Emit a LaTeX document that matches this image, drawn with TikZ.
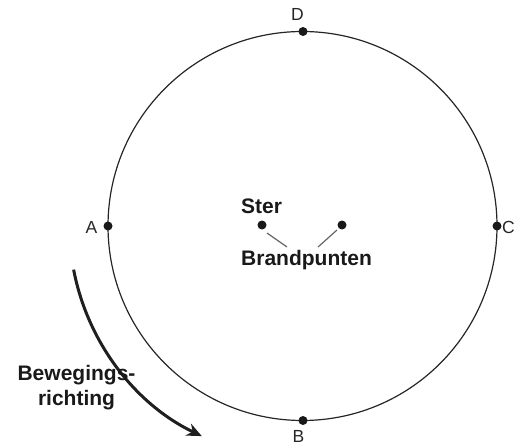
\documentclass[tikz,border=0pt]{standalone}
\usepackage{fontspec}
\setmainfont{Liberation Sans}
\usetikzlibrary{arrows.meta,calc}
\begin{document}
\begin{tikzpicture}[x=1pt,y=-1pt,
  dot/.style={circle,fill=black!90,inner sep=0pt,minimum size=9pt},
  lbl/.style={font=\fontsize{17.5}{20}\selectfont,text=black!85,inner sep=0pt},
  boldlbl/.style={font=\fontsize{21}{25}\selectfont\bfseries,inner sep=0pt,text=black!90},
  pointer/.style={draw=black!60,line width=1.2pt}]
\useasboundingbox (0,0) rectangle (521,446);
\coordinate (O) at (302.5,226);
\draw[line width=1.2pt, black!85] (O) circle[radius=194.5];
% points on orbit
\node[dot] (A) at (108,226) {};
\node[dot] (C) at (497,226) {};
\node[dot] (D) at (303,31.5) {};
\node[dot] (B) at (303,420.5) {};
\node[lbl] (lA) at (91.5,227) {A};
\node[lbl] (lC) at (508.5,227) {C};
\node[lbl] (lD) at (297.5,14.5) {D};
\node[lbl] (lB) at (298.5,436.5) {B};
% foci
\node[dot] (F1) at (262,225) {};
\node[dot] (F2) at (342,225) {};
\node[boldlbl,anchor=base] (ster) at (261.5,213.5) {Ster};
\node[boldlbl,anchor=base] (brand) at (306.5,265) {Brandpunten};
\coordinate (p1a) at (267,233);
\coordinate (p1b) at (287,247);
\coordinate (p2a) at (337,230);
\coordinate (p2b) at (318,247);
\draw[pointer] (p1a) -- (p1b);
\draw[pointer] (p2a) -- (p2b);
% direction of motion
\coordinate (arrstart) at ($(O)+(169.2:233)$);
\draw[line width=3pt, black!88, -{Stealth[length=15pt,width=13pt]}]
  (arrstart) arc[start angle=169.2, end angle=115.6, radius=233];
\node[boldlbl,anchor=base,align=center] (bew) at (76.5,405) {Bewegings-\\richting};
\end{tikzpicture}
\end{document}
